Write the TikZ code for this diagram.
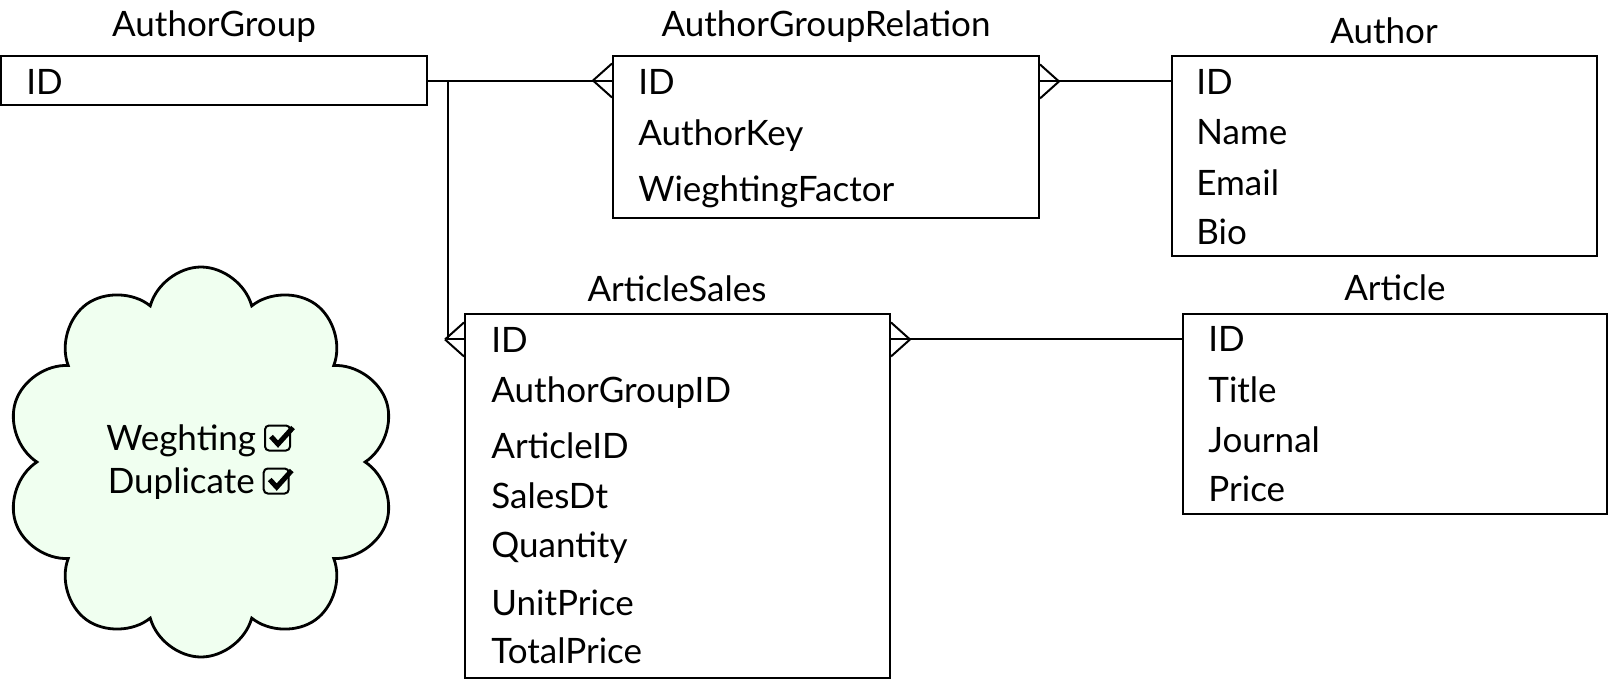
\documentclass[tikz,border=0pt]{standalone}
\usepackage{fontspec}
\setmainfont{Lato}
\usetikzlibrary{shapes.symbols,fit}

\definecolor{cloudgreen}{RGB}{240,255,240}
\newcommand{\erfont}{\fontsize{17.5pt}{21.5pt}\selectfont}
\newcommand{\chkbox}{\tikz[x=1pt, y=1pt, baseline=0pt]{%
  \draw[line width=1pt, rounded corners=2pt] (0,0) rectangle (12.5,12.5);
  \draw[line width=2.5pt, line join=miter] (3,7) -- (6.5,3.2) -- (14,11.5);}}
% crow's foot: #1 point on the box side, #2 = 1 if the box lies to the right
\newcommand{\crowfoot}[2]{%
  \draw[link] (#1) ++({-19*#2},0) -- ++({19*#2},-17)
              (#1) ++({-19*#2},0) -- ++({19*#2},17);}

\tikzset{
  entity/.style={draw, line width=1pt, inner sep=0pt},
  field/.style={anchor=base west, inner sep=0pt},
  title/.style={anchor=base, inner sep=0pt},
  link/.style={draw, line width=1pt}
}

\begin{document}
\begin{tikzpicture}[x=0.5pt, y=-0.5pt, font=\erfont]
  \useasboundingbox (0,0) rectangle (1612,680);

  % tables
  \node[entity, fit={(1,56) (427,105)}] (ag) {};
  \node[entity, fit={(613,56) (1039,218)}] (agr) {};
  \node[entity, fit={(1172,56) (1597,256)}] (author) {};
  \node[entity, fit={(465,314) (890,678)}] (as) {};
  \node[entity, fit={(1183,314) (1607,514)}] (article) {};

  \node[title] (ag-title) at (214,36) {AuthorGroup};
  \node[title] (agr-title) at (826,36) {AuthorGroupRelation};
  \node[title] (author-title) at (1384,43) {Author};
  \node[title] (as-title) at (677,301) {ArticleSales};
  \node[title] (article-title) at (1395,300) {Article};

  % fields
  \node[field] (ag-1) at (26,94) {ID};
  \foreach \y/\f [count=\i] in {94/ID, 145/AuthorKey, 201/WieghtingFactor}
    \node[field] (agr-\i) at (638,\y) {\f};
  \foreach \y/\f [count=\i] in {94/ID, 144/Name, 195/Email, 244/Bio}
    \node[field] (author-\i) at (1196,\y) {\f};
  \foreach \y/\f [count=\i] in {352/ID, 402/AuthorGroupID, 458/ArticleID,
      508/SalesDt, 557/Quantity, 615/UnitPrice, 663/TotalPrice}
    \node[field] (as-\i) at (491,\y) {\f};
  \foreach \y/\f [count=\i] in {351/ID, 402/Title, 452/Journal, 501/Price}
    \node[field] (article-\i) at (1208,\y) {\f};

  % note
  \node[cloud, cloud puffs=10, cloud puff arc=150, cloud ignores aspect,
        shape border rotate=18, draw, line width=1.4pt, fill=cloudgreen,
        minimum width=195pt, minimum height=195pt, align=center]
    (note) at (201,462) {Weghting\hspace{4pt}\chkbox\\Duplicate\hspace{4pt}\chkbox};

  % links
  \draw[link] (ag.east) -- (agr.west |- ag.east);
  \draw[link] (ag.east) -- ++(20,0) |- (as.west |- as-1);
  \draw[link] (agr.east |- agr-1) -- (author.west |- agr-1);
  \draw[link] (as.east |- as-1) -- (article.west |- as-1);
  \crowfoot{agr.west |- ag.east}{1}
  \crowfoot{as.west |- as-1}{1}
  \crowfoot{agr.east |- agr-1}{-1}
  \crowfoot{as.east |- as-1}{-1}
\end{tikzpicture}
\end{document}
